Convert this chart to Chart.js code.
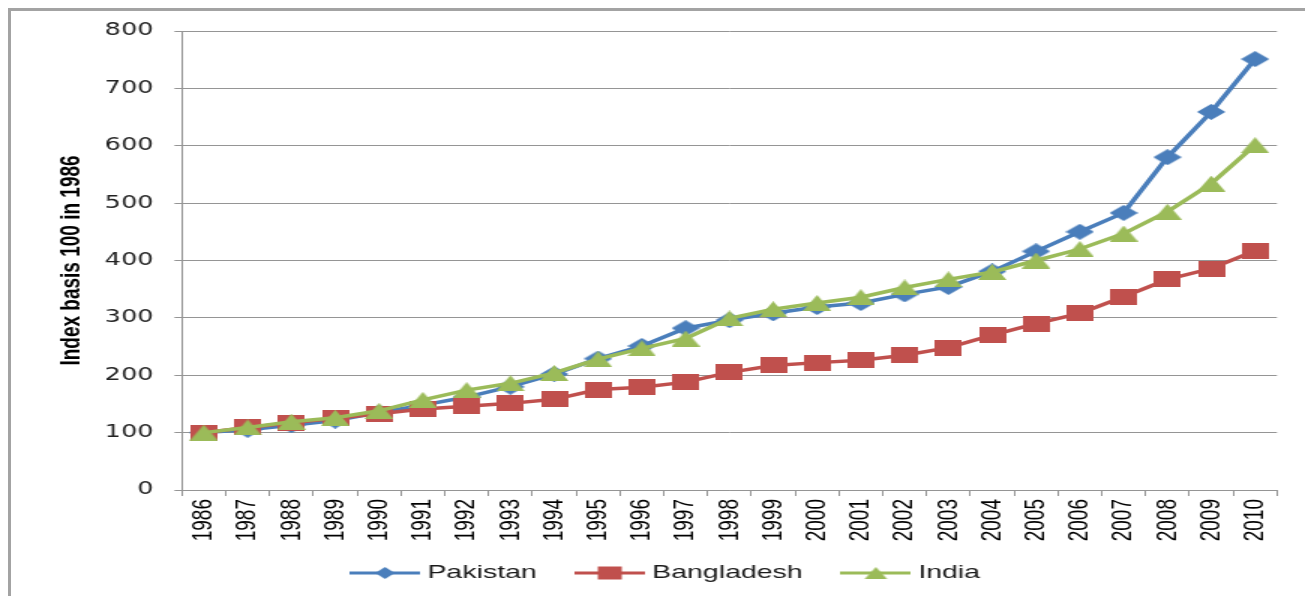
<!DOCTYPE html>
<html>
<head>
<meta charset="utf-8">
<title>Index basis 100 in 1986</title>
<script src="https://cdn.jsdelivr.net/npm/chart.js@4.4.0/dist/chart.umd.min.js"></script>
<style>
  html, body { margin: 0; padding: 0; background: #fff; }
  body { width: 1305px; height: 596px; overflow: hidden; position: relative; }
  /* the source picture is stretched sideways, so the chart is drawn narrow and scaled */
  #stretch { position: absolute; left: 0; top: 0; width: 870px; height: 596px; transform: scaleX(1.5); transform-origin: 0 0; }
  #frame { position: absolute; left: 8px; top: 8px; width: 1320px; height: 610px; border-left: 3px solid #a3a3a3; border-top: 3px solid #a3a3a3; pointer-events: none; }
</style>
</head>
<body>
<div id="stretch"><canvas id="indexChart"></canvas></div>
<div id="frame"></div>
<script>
const years = ['1986', '1987', '1988', '1989', '1990', '1991', '1992', '1993', '1994', '1995', '1996', '1997',
               '1998', '1999', '2000', '2001', '2002', '2003', '2004', '2005', '2006', '2007', '2008', '2009', '2010'];
const pakistan = [100, 105, 113, 121, 135, 148, 162, 180, 202, 229, 251, 282, 296, 308, 319, 326, 341, 354, 381, 416, 450, 483, 580, 659, 751];
const bangladesh = [100, 109, 117, 125, 133, 141, 146, 151, 158, 175, 179, 188, 205, 217, 222, 226, 235, 248, 270, 290, 308, 337, 367, 386, 417];
const india = [100, 109, 119, 126, 138, 157, 174, 186, 204, 228, 247, 264, 299, 315, 326, 336, 353, 367, 380, 400, 420, 447, 485, 534, 601];
const yTicks = [0, 100, 200, 300, 400, 500, 600, 700, 800];

const blue = '#4a7ebb';
const red = '#c0504d';
const green = '#9bbb59';
const gridGray = '#959595';

function drawShape(ctx, shape, cx, cy, w, h) {
    ctx.beginPath();
    if (shape === 'diamond') {
        ctx.moveTo(cx, cy - h / 2);
        ctx.lineTo(cx + w / 2, cy);
        ctx.lineTo(cx, cy + h / 2);
        ctx.lineTo(cx - w / 2, cy);
    } else if (shape === 'square') {
        ctx.rect(cx - w / 2, cy - h / 2, w, h);
    } else {
        ctx.moveTo(cx, cy - h / 2);
        ctx.lineTo(cx + w / 2, cy + h / 2);
        ctx.lineTo(cx - w / 2, cy + h / 2);
    }
    ctx.closePath();
    ctx.fill();
}

function markerImage(shape, w, h, color) {
    const c = document.createElement('canvas');
    c.width = w;
    c.height = h;
    const ctx = c.getContext('2d');
    ctx.fillStyle = color;
    drawShape(ctx, shape, w / 2, h / 2, w, h);
    return c;
}

function legendIcon(shape, w, h, color) {
    const c = document.createElement('canvas');
    c.width = 47;
    c.height = 14;
    const ctx = c.getContext('2d');
    ctx.strokeStyle = color;
    ctx.lineWidth = 3;
    ctx.beginPath();
    ctx.moveTo(0, 7);
    ctx.lineTo(47, 7);
    ctx.stroke();
    ctx.fillStyle = color;
    drawShape(ctx, shape, 23.5, 7, w, h);
    return c;
}

const pointImages = [
    markerImage('diamond', 19, 16, blue),
    markerImage('square', 18, 16, red),
    markerImage('triangle', 19, 16, green)
];
const legendIcons = [
    legendIcon('diamond', 13, 12, blue),
    legendIcon('square', 16, 13, red),
    legendIcon('triangle', 15, 12, green)
];

// legend sits a little right of centre; x labels need room below their box
const nudge = {
    id: 'nudge',
    afterLayout(chart) {
        chart.legend.left += 20;
        chart.legend.right += 20;
        chart.scales.x.bottom += 20;
    }
};

Chart.defaults.font.family = "'Liberation Sans', Arial, sans-serif";

function makeSeries(label, values, color, i, order) {
    return {
        label: label,
        data: values,
        borderColor: color,
        backgroundColor: color,
        borderWidth: 3.5,
        tension: 0,
        pointStyle: pointImages[i],
        pointRadius: 8,
        order: order
    };
}

const ctx = document.getElementById('indexChart').getContext('2d');
new Chart(ctx, {
    type: 'line',
    data: {
        labels: years,
        datasets: [
            makeSeries('Pakistan', pakistan, blue, 0, 3),
            makeSeries('Bangladesh', bangladesh, red, 1, 2),
            makeSeries('India', india, green, 2, 1)
        ]
    },
    plugins: [nudge],
    options: {
        responsive: true,
        maintainAspectRatio: false,
        animation: false,
        events: [],
        layout: {
            padding: { left: 0, right: 18.7, top: 31, bottom: 3.5 }
        },
        plugins: {
            tooltip: { enabled: false },
            legend: {
                position: 'bottom',
                labels: {
                    usePointStyle: true,
                    pointStyleWidth: 37.5,
                    padding: 30,
                    color: '#1a1a1a',
                    font: { size: 19 },
                    sort: (a, b) => a.datasetIndex - b.datasetIndex,
                    generateLabels: function(chart) {
                        const items = Chart.defaults.plugins.legend.labels.generateLabels(chart);
                        items.forEach(item => {
                            item.pointStyle = legendIcons[item.datasetIndex];
                        });
                        return items;
                    }
                }
            }
        },
        scales: {
            x: {
                offset: true,
                grid: {
                    offset: true,
                    drawOnChartArea: false,
                    drawTicks: true,
                    tickLength: 6,
                    color: gridGray
                },
                border: { color: gridGray, width: 1 },
                ticks: {
                    autoSkip: false,
                    minRotation: 90,
                    maxRotation: 90,
                    padding: 3,
                    color: '#000',
                    font: { size: 19 }
                },
                afterFit: function(scale) {
                    scale.height = 43.5;
                }
            },
            y: {
                min: 0,
                max: 800,
                afterBuildTicks: function(scale) {
                    scale.ticks = yTicks.map(v => ({ value: v }));
                },
                grid: {
                    color: gridGray,
                    lineWidth: 1,
                    tickLength: 5
                },
                border: { color: gridGray, width: 1 },
                ticks: {
                    padding: 14,
                    color: '#222',
                    font: { family: "'DejaVu Sans', sans-serif", size: 17 }
                },
                title: {
                    display: true,
                    text: 'Index basis 100 in 1986',
                    color: '#000',
                    font: { size: 19, weight: 'bold' },
                    padding: { top: 36, bottom: 0 }
                },
                afterFit: function(scale) {
                    scale.width = 121.3;
                }
            }
        }
    }
});
</script>
</body>
</html>
